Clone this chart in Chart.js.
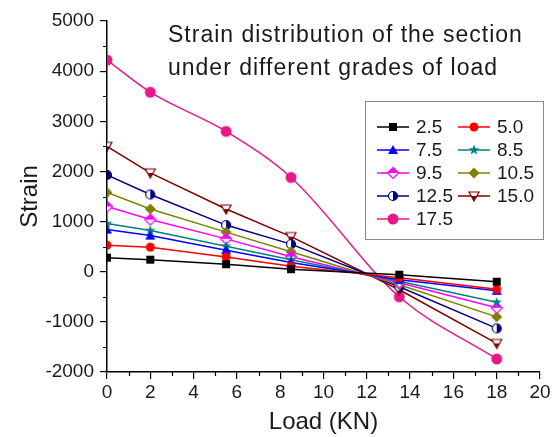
<!DOCTYPE html>
<html>
<head>
<meta charset="utf-8">
<script src="https://cdn.jsdelivr.net/npm/chart.js@4/dist/chart.umd.min.js"></script>
<style>
  html, body { margin: 0; padding: 0; background: #fff; }
  #grafico { display: block; }
</style>
</head>
<body>
<canvas id="grafico" width="554" height="437"></canvas>
<script>
// Datos: carga (KN) y deformación para cada grado de carga
const cargas = [0, 2, 5.5, 8.5, 13.5, 18];
const grados = ['2.5', '5.0', '7.5', '8.5', '9.5', '10.5', '12.5', '15.0', '17.5'];

const def2_5  = [280, 240, 150, 50, -60, -200];
const def5_0  = [530, 490, 295, 110, -120, -350];
const def7_5  = [840, 720, 430, 185, -160, -380];
const def8_5  = [960, 820, 510, 240, -190, -610];
const def9_5  = [1300, 1040, 655, 300, -220, -720];
const def10_5 = [1580, 1250, 790, 400, -260, -900];
const def12_5 = [1930, 1540, 930, 550, -300, -1130];
const def15_0 = [2500, 1970, 1250, 700, -360, -1430];
const def17_5 = [4220, 3580, 2800, 1880, -500, -1740];

const series = [def2_5, def5_0, def7_5, def8_5, def9_5, def10_5, def12_5, def15_0, def17_5];

// Etiquetas de los ejes
const marcasX = [0, 2, 4, 6, 8, 10, 12, 14, 16, 18, 20];
const marcasY = [-2000, -1000, 0, 1000, 2000, 3000, 4000, 5000];

const tituloGrafico = ['Strain distribution of the section', 'under different grades of load'];

// Estilo de cada serie (color y forma del marcador)
const estilos = [
  { color: '#000000', forma: 'cuadrado' },
  { color: '#FF0000', forma: 'circulo' },
  { color: '#0000FF', forma: 'triangulo' },
  { color: '#008080', forma: 'estrella' },
  { color: '#FF00FF', forma: 'rombo-medio' },
  { color: '#808000', forma: 'rombo' },
  { color: '#000080', forma: 'circulo-medio' },
  { color: '#800000', forma: 'triangulo-inv-medio' },
  { color: '#E6198A', forma: 'circulo-grande' }
];

const FUENTE = "'Liberation Sans', Arial, sans-serif";

// Dibuja un marcador en un canvas pequeño para usarlo como pointStyle
function crearMarcador(forma, color) {
  const lado = 14;
  const c = document.createElement('canvas');
  c.width = lado;
  c.height = lado;
  const g = c.getContext('2d');
  const m = lado / 2;
  const r = 4.5;
  g.fillStyle = color;
  g.strokeStyle = color;
  g.lineWidth = 1.2;

  const trazar = () => {
    g.beginPath();
    if (forma === 'cuadrado') {
      g.rect(m - 4, m - 4, 8, 8);
    } else if (forma === 'circulo' || forma === 'circulo-medio') {
      g.arc(m, m, r, 0, Math.PI * 2);
    } else if (forma === 'circulo-grande') {
      g.arc(m, m, 5.5, 0, Math.PI * 2);
    } else if (forma === 'triangulo') {
      g.moveTo(m, m - 5);
      g.lineTo(m + 5, m + 4);
      g.lineTo(m - 5, m + 4);
    } else if (forma === 'triangulo-inv-medio') {
      g.moveTo(m - 5, m - 4);
      g.lineTo(m + 5, m - 4);
      g.lineTo(m, m + 5);
    } else if (forma === 'rombo' || forma === 'rombo-medio') {
      g.moveTo(m, m - 5.5);
      g.lineTo(m + 5.5, m);
      g.lineTo(m, m + 5.5);
      g.lineTo(m - 5.5, m);
    } else if (forma === 'estrella') {
      for (let i = 0; i < 10; i++) {
        const rad = i % 2 === 0 ? 5.5 : 2.3;
        const ang = -Math.PI / 2 + i * Math.PI / 5;
        const px = m + rad * Math.cos(ang);
        const py = m + rad * Math.sin(ang);
        if (i === 0) g.moveTo(px, py); else g.lineTo(px, py);
      }
    }
    g.closePath();
  };

  if (forma.endsWith('-medio')) {
    // medio relleno: fondo blanco, una mitad de color y contorno
    trazar();
    g.fillStyle = '#fff';
    g.fill();
    g.save();
    trazar();
    g.clip();
    g.fillStyle = color;
    if (forma === 'circulo-medio') g.fillRect(m, 0, lado, lado);
    else if (forma === 'rombo-medio') g.fillRect(0, 0, lado, m);
    else g.fillRect(0, m, lado, lado);
    g.restore();
    trazar();
    g.stroke();
  } else {
    trazar();
    g.fill();
  }
  return c;
}

const marcadores = estilos.map(e => crearMarcador(e.forma, e.color));

const datasets = series.map((valores, i) => ({
  label: grados[i],
  data: cargas.map((x, j) => ({ x: x, y: valores[j] })),
  borderColor: estilos[i].color,
  backgroundColor: estilos[i].color,
  borderWidth: 1.5,
  pointStyle: marcadores[i],
  pointRadius: 5,
  // sólo la curva de 17.5 va suavizada
  cubicInterpolationMode: i === series.length - 1 ? 'monotone' : 'default',
  tension: i === series.length - 1 ? 0.4 : 0
}));

// Plugin: marcas menores, título interior y leyenda en recuadro
const extras = {
  id: 'extras',
  afterDraw(chart) {
    const { ctx, chartArea, scales } = chart;
    ctx.save();

    // marcas menores
    ctx.strokeStyle = '#000';
    ctx.lineWidth = 1.2;
    ctx.beginPath();
    for (let v = 1; v < 20; v += 2) {
      const px = Math.round(scales.x.getPixelForValue(v)) + 0.5;
      ctx.moveTo(px, chartArea.bottom);
      ctx.lineTo(px, chartArea.bottom + 4);
    }
    for (let v = -1500; v < 5000; v += 1000) {
      const py = Math.round(scales.y.getPixelForValue(v)) + 0.5;
      ctx.moveTo(chartArea.left - 4, py);
      ctx.lineTo(chartArea.left, py);
    }
    ctx.stroke();

    // título dentro del área
    ctx.fillStyle = '#1a1a1a';
    ctx.font = '23px ' + FUENTE;
    ctx.letterSpacing = '1px';
    ctx.textBaseline = 'alphabetic';
    ctx.textAlign = 'left';
    ctx.fillText(tituloGrafico[0], 168, 42);
    ctx.fillText(tituloGrafico[1], 168, 75);
    ctx.letterSpacing = '0px';

    // leyenda
    const caja = { x: 365.5, y: 101.5, w: 178, h: 138 };
    ctx.fillStyle = '#fff';
    ctx.fillRect(caja.x, caja.y, caja.w, caja.h);
    ctx.strokeStyle = '#8a8a8a';
    ctx.lineWidth = 1;
    ctx.strokeRect(caja.x, caja.y, caja.w, caja.h);

    ctx.font = '19px ' + FUENTE;
    ctx.textBaseline = 'middle';
    chart.data.datasets.forEach((ds, i) => {
      const col = i % 2;
      const fila = Math.floor(i / 2);
      const x0 = col === 0 ? 377 : 458;
      const y0 = 127 + fila * 23;
      ctx.strokeStyle = ds.borderColor;
      ctx.lineWidth = 1.5;
      ctx.beginPath();
      ctx.moveTo(x0, y0);
      ctx.lineTo(x0 + 32, y0);
      ctx.stroke();
      const mk = marcadores[i];
      ctx.drawImage(mk, x0 + 16 - mk.width / 2, y0 - mk.height / 2);
      ctx.fillStyle = '#1a1a1a';
      ctx.fillText(ds.label, x0 + 39, y0 + 1);
    });

    ctx.restore();
  }
};

const ctx = document.getElementById('grafico').getContext('2d');
new Chart(ctx, {
  type: 'line',
  data: { datasets: datasets },
  options: {
    responsive: false,
    animation: false,
    layout: { padding: { top: 21, right: 14, left: 0, bottom: 0 } },
    scales: {
      x: {
        type: 'linear',
        min: 0,
        max: 20,
        afterFit: scale => { scale.height = 65; },
        afterBuildTicks: scale => { scale.ticks = marcasX.map(v => ({ value: v })); },
        grid: { drawOnChartArea: false, drawTicks: true, tickLength: 7, color: '#000', lineWidth: 1.2 },
        border: { color: '#000', width: 1.5 },
        ticks: {
          color: '#1a1a1a',
          padding: 2,
          font: { family: FUENTE, size: 19 },
          callback: value => String(value)
        },
        title: {
          display: true,
          text: 'Load (KN)',
          color: '#1a1a1a',
          font: { family: FUENTE, size: 24 },
          padding: { top: 0, bottom: 0 }
        }
      },
      y: {
        min: -2000,
        max: 5000,
        afterFit: scale => { scale.width = 107; },
        afterBuildTicks: scale => { scale.ticks = marcasY.map(v => ({ value: v })); },
        grid: { drawOnChartArea: false, drawTicks: true, tickLength: 7, color: '#000', lineWidth: 1.2 },
        border: { color: '#000', width: 1.5 },
        ticks: {
          color: '#1a1a1a',
          padding: 6,
          font: { family: FUENTE, size: 19 },
          callback: value => String(value)
        },
        title: {
          display: true,
          text: 'Strain',
          color: '#1a1a1a',
          font: { family: FUENTE, size: 24 },
          padding: { top: 16, bottom: 0 }
        }
      }
    },
    plugins: {
      legend: { display: false },
      tooltip: { enabled: false }
    }
  },
  plugins: [extras]
});
</script>
</body>
</html>
